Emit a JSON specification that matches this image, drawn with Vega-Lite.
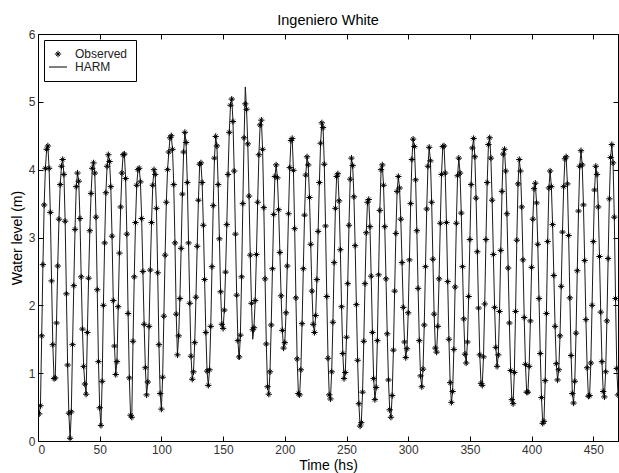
{
"$schema":"https://vega.github.io/schema/vega-lite/v6.json",
"width":580,"height":407,
"autosize":{"type":"none"},
"padding":{"left":38,"top":34,"right":1,"bottom":32},
"title":{"text":"Ingeniero White","fontSize":14.5,"font":"Liberation Sans","fontWeight":"normal","color":"#000","offset":0,"anchor":"middle"},
"config":{"font":"Liberation Sans","view":{"stroke":"#000","strokeWidth":1},
"axis":{"grid":false,"domainColor":"#000","tickColor":"#000","labelColor":"#333","labelFontSize":12,"titleFontSize":14,"titleFontWeight":"normal","titleColor":"#000","tickSize":-5,"labelPadding":8,"labelFont":"Liberation Sans","titleFont":"Liberation Sans"},
"legend":{"strokeColor":"#000","fillColor":"#fff","padding":8,"labelFontSize":12,"labelFont":"Liberation Sans","labelColor":"#222","symbolStrokeColor":"#000","symbolFillColor":"transparent","symbolStrokeWidth":1,"symbolSize":40,"labelOffset":11,"rowPadding":1,"cornerRadius":0}},
"data":{"values":[
{"t":1,"o":0.40,"h":0.40},{"t":2,"o":0.52,"h":0.52},{"t":3,"o":1.55,"h":1.55},{"t":4,"o":2.60,"h":2.60},{"t":5,"o":3.48,"h":3.48},{"t":6,"o":4.02,"h":4.02},{"t":7,"o":4.30,"h":4.30},{"t":8,"o":4.35,"h":4.35},{"t":9,"o":4.02,"h":4.02},{"t":10,"o":3.37,"h":3.37},
{"t":11,"o":2.36,"h":2.36},{"t":12,"o":1.42,"h":1.42},{"t":13,"o":0.92,"h":0.92},{"t":14,"o":0.93,"h":0.93},{"t":15,"o":1.74,"h":1.74},{"t":16,"o":2.58,"h":2.58},{"t":17,"o":3.27,"h":3.27},{"t":18,"o":3.78,"h":3.78},{"t":19,"o":4.05,"h":4.05},{"t":20,"o":4.15,"h":4.15},
{"t":21,"o":3.93,"h":3.93},{"t":22,"o":3.24,"h":3.24},{"t":23,"o":2.17,"h":2.17},{"t":24,"o":1.12,"h":1.12},{"t":25,"o":0.41,"h":0.41},{"t":26,"o":0.04,"h":0.02},{"t":27,"o":0.43,"h":0.43},{"t":28,"o":1.42,"h":1.42},{"t":29,"o":2.29,"h":2.29},{"t":30,"o":3.12,"h":3.12},
{"t":31,"o":3.75,"h":3.75},{"t":32,"o":3.95,"h":3.95},{"t":33,"o":3.83,"h":3.83},{"t":34,"o":3.28,"h":3.28},{"t":35,"o":2.42,"h":2.42},{"t":36,"o":1.65,"h":1.65},{"t":37,"o":1.10,"h":1.10},{"t":38,"o":0.84,"h":0.84},{"t":39,"o":0.69,"h":0.69},{"t":40,"o":1.60,"h":1.60},
{"t":41,"o":2.40,"h":2.40},{"t":42,"o":3.10,"h":3.10},{"t":43,"o":3.65,"h":3.65},{"t":44,"o":4.02,"h":4.02},{"t":45,"o":4.10,"h":4.10},{"t":46,"o":3.95,"h":3.95},{"t":47,"o":3.30,"h":3.30},{"t":48,"o":2.23,"h":2.23},{"t":49,"o":1.17,"h":1.17},{"t":50,"o":0.49,"h":0.49},
{"t":51,"o":0.23,"h":0.23},{"t":52,"o":0.88,"h":0.88},{"t":53,"o":2.00,"h":2.00},{"t":54,"o":2.92,"h":2.92},{"t":55,"o":3.66,"h":3.66},{"t":56,"o":4.05,"h":4.05},{"t":57,"o":4.22,"h":4.22},{"t":58,"o":4.12,"h":4.12},{"t":59,"o":3.75,"h":3.75},{"t":60,"o":3.02,"h":3.02},
{"t":61,"o":2.07,"h":2.07},{"t":62,"o":1.40,"h":1.40},{"t":63,"o":0.98,"h":0.98},{"t":64,"o":1.17,"h":1.17},{"t":65,"o":1.98,"h":1.98},{"t":66,"o":2.77,"h":2.77},{"t":67,"o":3.45,"h":3.45},{"t":68,"o":3.95,"h":3.95},{"t":69,"o":4.22,"h":4.22},{"t":70,"o":4.23,"h":4.23},
{"t":71,"o":3.87,"h":3.87},{"t":72,"o":3.05,"h":3.05},{"t":73,"o":1.88,"h":1.88},{"t":74,"o":0.93,"h":0.93},{"t":75,"o":0.38,"h":0.38},{"t":76,"o":0.35,"h":0.35},{"t":77,"o":1.47,"h":1.47},{"t":78,"o":2.42,"h":2.42},{"t":79,"o":3.22,"h":3.22},{"t":80,"o":3.77,"h":3.77},
{"t":81,"o":4.00,"h":4.00},{"t":82,"o":4.02,"h":4.02},{"t":83,"o":3.82,"h":3.82},{"t":84,"o":3.28,"h":3.28},{"t":85,"o":2.50,"h":2.50},{"t":86,"o":1.72,"h":1.72},{"t":87,"o":1.08,"h":1.08},{"t":88,"o":0.68,"h":0.68},{"t":89,"o":0.87,"h":0.87},{"t":90,"o":1.69,"h":1.69},
{"t":91,"o":2.52,"h":2.52},{"t":92,"o":3.22,"h":3.22},{"t":93,"o":3.77,"h":3.77},{"t":94,"o":4.00,"h":4.00},{"t":95,"o":3.93,"h":3.93},{"t":96,"o":3.43,"h":3.43},{"t":97,"o":2.48,"h":2.48},{"t":98,"o":1.42,"h":1.42},{"t":99,"o":0.70,"h":0.70},{"t":100,"o":0.47,"h":0.47},
{"t":101,"o":0.94,"h":0.94},{"t":102,"o":1.84,"h":1.84},{"t":103,"o":2.74,"h":2.74},{"t":104,"o":3.52,"h":3.52},{"t":105,"o":4.00,"h":4.00},{"t":106,"o":4.26,"h":4.26},{"t":107,"o":4.47,"h":4.47},{"t":108,"o":4.50,"h":4.50},{"t":109,"o":4.30,"h":4.30},{"t":110,"o":3.78,"h":3.78},
{"t":111,"o":2.92,"h":2.92},{"t":112,"o":1.87,"h":1.87},{"t":113,"o":1.27,"h":1.27},{"t":114,"o":1.55,"h":1.55},{"t":115,"o":2.10,"h":2.10},{"t":116,"o":2.84,"h":2.84},{"t":117,"o":3.64,"h":3.64},{"t":118,"o":4.26,"h":4.26},{"t":119,"o":4.55,"h":4.55},{"t":120,"o":4.40,"h":4.40},
{"t":121,"o":3.81,"h":3.81},{"t":122,"o":2.92,"h":2.92},{"t":123,"o":2.03,"h":2.03},{"t":124,"o":1.25,"h":1.25},{"t":125,"o":0.91,"h":0.91},{"t":126,"o":1.02,"h":1.02},{"t":127,"o":1.45,"h":1.45},{"t":128,"o":2.12,"h":2.12},{"t":129,"o":2.87,"h":2.87},{"t":130,"o":3.55,"h":3.55},
{"t":131,"o":4.08,"h":4.08},{"t":132,"o":4.10,"h":4.10},{"t":133,"o":3.81,"h":3.81},{"t":134,"o":3.18,"h":3.18},{"t":135,"o":2.38,"h":2.38},{"t":136,"o":1.60,"h":1.60},{"t":137,"o":1.03,"h":1.03},{"t":138,"o":0.82,"h":0.82},{"t":139,"o":1.05,"h":1.05},{"t":140,"o":1.69,"h":1.69},
{"t":141,"o":2.57,"h":2.57},{"t":142,"o":3.47,"h":3.47},{"t":143,"o":4.17,"h":4.17},{"t":144,"o":4.49,"h":4.49},{"t":145,"o":4.35,"h":4.35},{"t":146,"o":3.78,"h":3.78},{"t":147,"o":2.98,"h":2.98},{"t":148,"o":2.20,"h":2.20},{"t":149,"o":1.72,"h":1.72},{"t":150,"o":1.66,"h":1.66},
{"t":151,"o":1.93,"h":1.93},{"t":152,"o":2.49,"h":2.49},{"t":153,"o":3.19,"h":3.19},{"t":154,"o":3.93,"h":3.93},{"t":155,"o":4.55,"h":4.55},{"t":156,"o":4.95,"h":4.95},{"t":157,"o":5.04,"h":5.06},{"t":158,"o":4.71,"h":4.71},{"t":159,"o":3.98,"h":3.98},{"t":160,"o":3.05,"h":3.05},
{"t":161,"o":2.15,"h":2.15},{"t":162,"o":1.48,"h":1.48},{"t":163,"o":1.24,"h":1.20},{"t":164,"o":1.56,"h":1.56},{"t":165,"o":2.42,"h":2.42},{"t":166,"o":3.50,"h":3.50},{"t":167,"o":4.47,"h":4.47},{"t":168,"o":4.97,"h":5.22},{"t":169,"o":4.89,"h":4.89},{"t":170,"o":4.38,"h":4.38},
{"t":171,"o":3.61,"h":3.61},{"t":172,"o":2.74,"h":2.74},{"t":173,"o":2.03,"h":2.03},{"t":174,"o":1.64,"h":1.50},{"t":175,"o":1.67,"h":1.67},{"t":176,"o":2.07,"h":2.07},{"t":177,"o":2.75,"h":2.75},{"t":178,"o":3.52,"h":3.52},{"t":179,"o":4.22,"h":4.22},{"t":180,"o":4.66,"h":4.66},
{"t":181,"o":4.73,"h":4.73},{"t":182,"o":4.30,"h":4.30},{"t":183,"o":3.44,"h":3.44},{"t":184,"o":2.39,"h":2.39},{"t":185,"o":1.43,"h":1.43},{"t":186,"o":0.80,"h":0.80},{"t":187,"o":0.69,"h":0.69},{"t":188,"o":1.02,"h":1.02},{"t":189,"o":1.71,"h":1.71},{"t":190,"o":2.54,"h":2.54},
{"t":191,"o":3.34,"h":3.34},{"t":192,"o":3.90,"h":3.90},{"t":193,"o":4.07,"h":4.07},{"t":194,"o":3.88,"h":3.88},{"t":195,"o":3.41,"h":3.41},{"t":196,"o":2.78,"h":2.78},{"t":197,"o":2.14,"h":2.14},{"t":198,"o":1.63,"h":1.63},{"t":199,"o":1.37,"h":1.37},{"t":200,"o":1.45,"h":1.45},
{"t":201,"o":1.89,"h":1.89},{"t":202,"o":2.58,"h":2.58},{"t":203,"o":3.35,"h":3.35},{"t":204,"o":4.03,"h":4.03},{"t":205,"o":4.43,"h":4.43},{"t":206,"o":4.46,"h":4.46},{"t":207,"o":3.99,"h":3.99},{"t":208,"o":3.13,"h":3.13},{"t":209,"o":2.11,"h":2.11},{"t":210,"o":1.21,"h":1.21},
{"t":211,"o":0.70,"h":0.70},{"t":212,"o":0.68,"h":0.68},{"t":213,"o":1.05,"h":1.05},{"t":214,"o":1.73,"h":1.73},{"t":215,"o":2.54,"h":2.54},{"t":216,"o":3.33,"h":3.33},{"t":217,"o":3.92,"h":3.92},{"t":218,"o":4.19,"h":4.19},{"t":219,"o":4.07,"h":4.07},{"t":220,"o":3.59,"h":3.59},
{"t":221,"o":2.90,"h":2.90},{"t":222,"o":2.21,"h":2.21},{"t":223,"o":1.72,"h":1.72},{"t":224,"o":1.60,"h":1.60},{"t":225,"o":1.85,"h":1.85},{"t":226,"o":2.38,"h":2.38},{"t":227,"o":3.09,"h":3.09},{"t":228,"o":3.81,"h":3.81},{"t":229,"o":4.39,"h":4.39},{"t":230,"o":4.69,"h":4.69},
{"t":231,"o":4.62,"h":4.62},{"t":232,"o":4.08,"h":4.08},{"t":233,"o":3.17,"h":3.17},{"t":234,"o":2.13,"h":2.13},{"t":235,"o":1.22,"h":1.22},{"t":236,"o":0.68,"h":0.68},{"t":237,"o":0.62,"h":0.62},{"t":238,"o":1.02,"h":1.02},{"t":239,"o":1.75,"h":1.75},{"t":240,"o":2.63,"h":2.63},
{"t":241,"o":3.43,"h":3.43},{"t":242,"o":3.90,"h":3.90},{"t":243,"o":3.94,"h":3.94},{"t":244,"o":3.54,"h":3.54},{"t":245,"o":2.82,"h":2.82},{"t":246,"o":1.98,"h":1.98},{"t":247,"o":1.29,"h":1.29},{"t":248,"o":0.92,"h":0.92},{"t":249,"o":1.01,"h":1.01},{"t":250,"o":1.53,"h":1.53},
{"t":251,"o":2.32,"h":2.32},{"t":252,"o":3.18,"h":3.18},{"t":253,"o":3.86,"h":3.86},{"t":254,"o":4.17,"h":4.17},{"t":255,"o":4.06,"h":4.06},{"t":256,"o":3.60,"h":3.60},{"t":257,"o":2.88,"h":2.88},{"t":258,"o":2.01,"h":2.01},{"t":259,"o":1.19,"h":1.19},{"t":260,"o":0.55,"h":0.55},
{"t":261,"o":0.22,"h":0.22},{"t":262,"o":0.27,"h":0.27},{"t":263,"o":0.72,"h":0.72},{"t":264,"o":1.47,"h":1.47},{"t":265,"o":2.32,"h":2.32},{"t":266,"o":3.07,"h":3.07},{"t":267,"o":3.52,"h":3.52},{"t":268,"o":3.56,"h":3.56},{"t":269,"o":3.16,"h":3.16},{"t":270,"o":2.43,"h":2.43},
{"t":271,"o":1.60,"h":1.60},{"t":272,"o":0.92,"h":0.92},{"t":273,"o":0.61,"h":0.61},{"t":274,"o":0.79,"h":0.79},{"t":275,"o":1.48,"h":1.48},{"t":276,"o":2.45,"h":2.45},{"t":277,"o":3.40,"h":3.40},{"t":278,"o":4.00,"h":4.00},{"t":279,"o":4.07,"h":4.07},{"t":280,"o":3.77,"h":3.77},
{"t":281,"o":3.16,"h":3.16},{"t":282,"o":2.39,"h":2.39},{"t":283,"o":1.58,"h":1.58},{"t":284,"o":0.90,"h":0.90},{"t":285,"o":0.46,"h":0.46},{"t":286,"o":0.35,"h":0.35},{"t":287,"o":0.67,"h":0.67},{"t":288,"o":1.34,"h":1.34},{"t":289,"o":2.21,"h":2.21},{"t":290,"o":3.06,"h":3.06},
{"t":291,"o":3.68,"h":3.68},{"t":292,"o":3.90,"h":3.90},{"t":293,"o":3.73,"h":3.73},{"t":294,"o":3.27,"h":3.27},{"t":295,"o":2.63,"h":2.63},{"t":296,"o":1.97,"h":1.97},{"t":297,"o":1.46,"h":1.46},{"t":298,"o":1.23,"h":1.23},{"t":299,"o":1.36,"h":1.36},{"t":300,"o":1.89,"h":1.89},
{"t":301,"o":2.67,"h":2.67},{"t":302,"o":3.50,"h":3.50},{"t":303,"o":4.15,"h":4.15},{"t":304,"o":4.45,"h":4.45},{"t":305,"o":4.34,"h":4.34},{"t":306,"o":3.85,"h":3.85},{"t":307,"o":3.10,"h":3.10},{"t":308,"o":2.25,"h":2.25},{"t":309,"o":1.48,"h":1.48},{"t":310,"o":0.96,"h":0.96},
{"t":311,"o":0.80,"h":0.80},{"t":312,"o":1.06,"h":1.06},{"t":313,"o":1.71,"h":1.71},{"t":314,"o":2.57,"h":2.57},{"t":315,"o":3.42,"h":3.42},{"t":316,"o":4.05,"h":4.05},{"t":317,"o":4.33,"h":4.33},{"t":318,"o":4.13,"h":4.13},{"t":319,"o":3.52,"h":3.52},{"t":320,"o":2.68,"h":2.68},
{"t":321,"o":1.87,"h":1.87},{"t":322,"o":1.37,"h":1.37},{"t":323,"o":1.31,"h":1.31},{"t":324,"o":1.69,"h":1.69},{"t":325,"o":2.39,"h":2.39},{"t":326,"o":3.21,"h":3.21},{"t":327,"o":3.93,"h":3.93},{"t":328,"o":4.34,"h":4.34},{"t":329,"o":4.35,"h":4.35},{"t":330,"o":3.95,"h":3.95},
{"t":331,"o":3.22,"h":3.22},{"t":332,"o":2.35,"h":2.35},{"t":333,"o":1.50,"h":1.50},{"t":334,"o":0.86,"h":0.86},{"t":335,"o":0.57,"h":0.57},{"t":336,"o":0.73,"h":0.73},{"t":337,"o":1.35,"h":1.35},{"t":338,"o":2.27,"h":2.27},{"t":339,"o":3.21,"h":3.21},{"t":340,"o":3.91,"h":3.91},
{"t":341,"o":4.17,"h":4.17},{"t":342,"o":3.95,"h":3.95},{"t":343,"o":3.36,"h":3.36},{"t":344,"o":2.57,"h":2.57},{"t":345,"o":1.80,"h":1.80},{"t":346,"o":1.28,"h":1.28},{"t":347,"o":1.15,"h":1.15},{"t":348,"o":1.46,"h":1.46},{"t":349,"o":2.13,"h":2.13},{"t":350,"o":2.97,"h":2.97},
{"t":351,"o":3.78,"h":3.78},{"t":352,"o":4.32,"h":4.32},{"t":353,"o":4.46,"h":4.46},{"t":354,"o":4.19,"h":4.19},{"t":355,"o":3.58,"h":3.58},{"t":356,"o":2.79,"h":2.79},{"t":357,"o":1.96,"h":1.96},{"t":358,"o":1.27,"h":1.27},{"t":359,"o":0.85,"h":0.85},{"t":360,"o":0.82,"h":0.82},
{"t":361,"o":1.24,"h":1.24},{"t":362,"o":2.02,"h":2.02},{"t":363,"o":2.97,"h":2.97},{"t":364,"o":3.81,"h":3.81},{"t":365,"o":4.37,"h":4.37},{"t":366,"o":4.47,"h":4.47},{"t":367,"o":4.17,"h":4.17},{"t":368,"o":3.55,"h":3.55},{"t":369,"o":2.75,"h":2.75},{"t":370,"o":1.97,"h":1.97},
{"t":371,"o":1.38,"h":1.38},{"t":372,"o":1.10,"h":1.10},{"t":373,"o":1.27,"h":1.27},{"t":374,"o":1.91,"h":1.91},{"t":375,"o":2.81,"h":2.81},{"t":376,"o":3.68,"h":3.68},{"t":377,"o":4.23,"h":4.23},{"t":378,"o":4.30,"h":4.30},{"t":379,"o":3.98,"h":3.98},{"t":380,"o":3.35,"h":3.35},
{"t":381,"o":2.55,"h":2.55},{"t":382,"o":1.74,"h":1.74},{"t":383,"o":1.04,"h":1.04},{"t":384,"o":0.61,"h":0.61},{"t":385,"o":0.55,"h":0.55},{"t":386,"o":1.01,"h":1.01},{"t":387,"o":1.91,"h":1.91},{"t":388,"o":2.96,"h":2.96},{"t":389,"o":3.79,"h":3.79},{"t":390,"o":4.15,"h":4.15},
{"t":391,"o":3.98,"h":3.98},{"t":392,"o":3.45,"h":3.45},{"t":393,"o":2.67,"h":2.67},{"t":394,"o":1.82,"h":1.82},{"t":395,"o":1.13,"h":1.13},{"t":396,"o":0.72,"h":0.72},{"t":397,"o":0.72,"h":0.72},{"t":398,"o":1.10,"h":1.10},{"t":399,"o":1.77,"h":1.77},{"t":400,"o":2.56,"h":2.56},
{"t":401,"o":3.27,"h":3.27},{"t":402,"o":3.72,"h":3.72},{"t":403,"o":3.80,"h":3.80},{"t":404,"o":3.51,"h":3.51},{"t":405,"o":2.90,"h":2.90},{"t":406,"o":2.10,"h":2.10},{"t":407,"o":1.29,"h":1.29},{"t":408,"o":0.64,"h":0.64},{"t":409,"o":0.26,"h":0.26},{"t":410,"o":0.29,"h":0.29},
{"t":411,"o":0.89,"h":0.89},{"t":412,"o":1.88,"h":1.88},{"t":413,"o":2.94,"h":2.94},{"t":414,"o":3.73,"h":3.73},{"t":415,"o":3.98,"h":3.98},{"t":416,"o":3.75,"h":3.75},{"t":417,"o":3.19,"h":3.19},{"t":418,"o":2.44,"h":2.44},{"t":419,"o":1.69,"h":1.69},{"t":420,"o":1.14,"h":1.14},
{"t":421,"o":0.90,"h":0.90},{"t":422,"o":1.05,"h":1.05},{"t":423,"o":1.55,"h":1.55},{"t":424,"o":2.28,"h":2.28},{"t":425,"o":3.08,"h":3.08},{"t":426,"o":3.75,"h":3.75},{"t":427,"o":4.16,"h":4.16},{"t":428,"o":4.19,"h":4.19},{"t":429,"o":3.79,"h":3.79},{"t":430,"o":3.03,"h":3.03},
{"t":431,"o":2.11,"h":2.11},{"t":432,"o":1.26,"h":1.26},{"t":433,"o":0.70,"h":0.70},{"t":434,"o":0.56,"h":0.56},{"t":435,"o":0.88,"h":0.88},{"t":436,"o":1.59,"h":1.59},{"t":437,"o":2.51,"h":2.51},{"t":438,"o":3.39,"h":3.39},{"t":439,"o":4.05,"h":4.05},{"t":440,"o":4.28,"h":4.28},
{"t":441,"o":4.07,"h":4.07},{"t":442,"o":3.48,"h":3.48},{"t":443,"o":2.66,"h":2.66},{"t":444,"o":1.79,"h":1.79},{"t":445,"o":1.08,"h":1.08},{"t":446,"o":0.66,"h":0.66},{"t":447,"o":0.67,"h":0.67},{"t":448,"o":1.15,"h":1.15},{"t":449,"o":2.00,"h":2.00},{"t":450,"o":2.94,"h":2.94},
{"t":451,"o":3.70,"h":3.70},{"t":452,"o":4.05,"h":4.05},{"t":453,"o":3.93,"h":3.93},{"t":454,"o":3.45,"h":3.45},{"t":455,"o":2.72,"h":2.72},{"t":456,"o":1.90,"h":1.90},{"t":457,"o":1.17,"h":1.17},{"t":458,"o":0.73,"h":0.73},{"t":459,"o":0.65,"h":0.65},{"t":460,"o":1.02,"h":1.02},
{"t":461,"o":1.77,"h":1.77},{"t":462,"o":2.69,"h":2.69},{"t":463,"o":3.57,"h":3.57},{"t":464,"o":4.18,"h":4.18},{"t":465,"o":4.37,"h":4.37},{"t":466,"o":4.10,"h":4.10},{"t":467,"o":3.30,"h":3.30},{"t":468,"o":2.10,"h":2.10},{"t":469,"o":1.07,"h":1.07},{"t":470,"o":0.68,"h":0.68}
]},
"layer":[
{"mark":{"type":"line","stroke":"#1a1a1a","strokeWidth":1,"clip":true},
"encoding":{
"x":{"field":"t","type":"quantitative","scale":{"domain":[0,470],"nice":false,"zero":false},"axis":{"orient":"bottom","values":[0,50,100,150,200,250,300,350,400,450],"title":"Time (hs)","titlePadding":3}},
"y":{"field":"h","type":"quantitative","scale":{"domain":[0,6],"nice":false},"axis":{"orient":"left","values":[0,1,2,3,4,5,6],"title":"Water level (m)","titlePadding":4}}}},
{"mark":{"type":"point","filled":false,"stroke":"#000","strokeWidth":1,"size":40,"opacity":1,"clip":true},
"encoding":{
"x":{"field":"t","type":"quantitative","axis":{"orient":"top","values":[0,50,100,150,200,250,300,350,400,450],"labels":false,"title":null,"labelPadding":0}},
"y":{"field":"o","type":"quantitative","axis":{"orient":"right","values":[0,1,2,3,4,5,6],"labels":false,"title":null,"labelPadding":0}},
"shape":{"datum":"Observed","scale":{"domain":["Observed","HARM"],"range":["M-1,0L1,0M0,-1L0,1M-0.6,-0.6L0.6,0.6M-0.6,0.6L0.6,-0.6","M-2.85,0L2.85,0"]},"legend":{"title":null,"orient":"top-left","offset":6}}}}
],
"resolve":{"axis":{"x":"independent","y":"independent"}}
}
